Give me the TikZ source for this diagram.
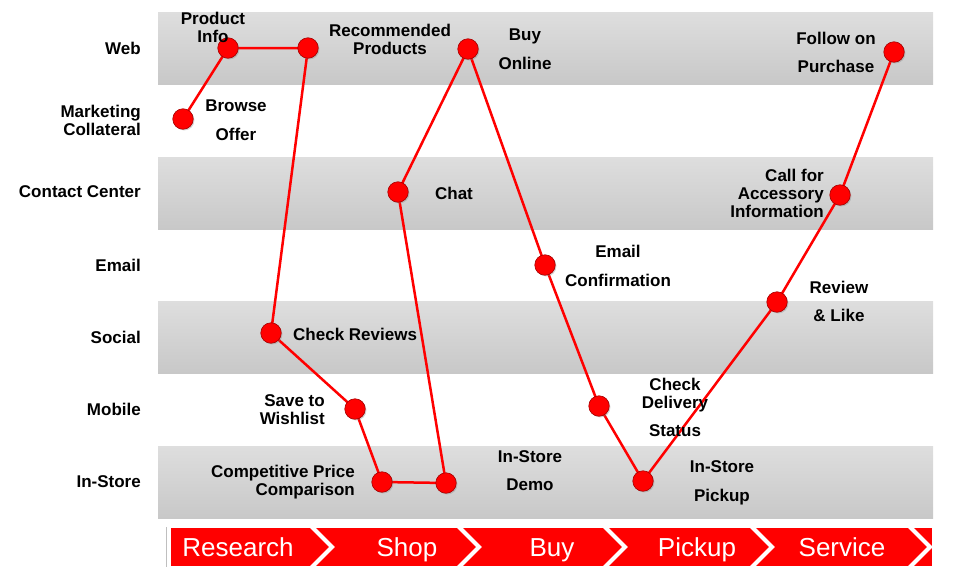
\documentclass[tikz,border=0pt]{standalone}
\usepackage{fontspec}
\setmainfont{Liberation Sans}
\usetikzlibrary{shadows}
\definecolor{rd}{HTML}{FF0000}
\definecolor{bandtop}{HTML}{DEDEDE}
\definecolor{bandbot}{HTML}{C8C8C8}
\begin{document}
\begin{tikzpicture}[x=1pt,y=-1pt,
  dot/.style={circle, fill=rd, draw=rd!65!black, line width=0.6pt, minimum size=20.5pt, inner sep=0pt,
              drop shadow={shadow xshift=1.2pt, shadow yshift=-1.2pt, opacity=0.35}},
  lbl/.style={font=\fontsize{17}{18}\selectfont\bfseries, text=black, inner sep=0pt, align=center},
  rowlbl/.style={lbl, anchor=east, align=right},
  stage/.style={font=\fontsize{26}{28}\selectfont, text=white, inner sep=0pt, anchor=base},
  journey/.style={rd, line width=2.5pt},
  band/.style={top color=bandtop, bottom color=bandbot},
  chev/.style={white, line width=4pt, line join=miter}]
\useasboundingbox (0,0) rectangle (959,570);
% bands
\shade[band] (158,12) rectangle (933,84);
\shade[band] (158,157) rectangle (933,229);
\shade[band] (158,301) rectangle (933,373);
\shade[band] (158,446) rectangle (933,518);
% row labels
\node[rowlbl] (rWeb) at (141,48) {Web};
\node[rowlbl] (rMkt) at (141,120) {Marketing\\Collateral};
\node[rowlbl] (rCC) at (141,192) {Contact Center};
\node[rowlbl] (rEmail) at (141,265) {Email};
\node[rowlbl] (rSocial) at (141,337) {Social};
\node[rowlbl] (rMobile) at (141,409) {Mobile};
\node[rowlbl] (rStore) at (141,482) {In-Store};
% stage bar
\draw[gray!50, line width=0.8pt] (166,527) -- (166,567);
\fill[rd] (171,528) rectangle (932,566);
\foreach \x in {310,457,603,750,908}{
  \draw[chev] (\x,525) -- (\x+22,547) -- (\x,569);
}
\node[stage] (sResearch) at (238,556) {Research};
\node[stage] (sShop) at (407,556) {Shop};
\node[stage] (sBuy) at (552,556) {Buy};
\node[stage] (sPickup) at (697,556) {Pickup};
\node[stage] (sService) at (842,556) {Service};
% dot coordinates
\coordinate (p1) at (183,119);
\coordinate (p2) at (228,48);
\coordinate (p3) at (308,48);
\coordinate (p4) at (271,333);
\coordinate (p5) at (355,409);
\coordinate (p6) at (382,482);
\coordinate (p7) at (446,483);
\coordinate (p8) at (398,192);
\coordinate (p9) at (468,49);
\coordinate (p10) at (545,265);
\coordinate (p11) at (599,406);
\coordinate (p12) at (643,481);
\coordinate (p13) at (777,302);
\coordinate (p14) at (840,195);
\coordinate (p15) at (894,52);
% journey line
\draw[journey, line join=round] (p1) -- (p2) -- (p3) -- (p4) -- (p5) -- (p6) -- (p7) -- (p8) -- (p9) -- (p10) -- (p11) -- (p12) -- (p13) -- (p14) -- (p15);
% dots
\foreach \i in {1,...,15}{
  \node[dot] (d\i) at (p\i) {};
}
% labels
\node[lbl] (tProd) at (213,27) {Product\\Info};
\node[lbl] (tBrowse) at (236,120.5) {Browse\\[11pt]Offer};
\node[lbl] (tRec) at (390,39) {Recommended\\Products};
\node[lbl] (tBuy) at (525,49.5) {Buy\\[11pt]Online};
\node[lbl] (tChat) at (454,193) {Chat};
\node[lbl] (tEmail) at (618,265.5) {Email\\[11pt]Confirmation};
\node[lbl, anchor=west] (tRev) at (293,334) {Check Reviews};
\node[lbl, anchor=east, align=right] (tSave) at (325,410) {Save to\\Wishlist};
\node[lbl, anchor=east, align=right] (tComp) at (355,482.5) {Competitive Price\\Comparison};
\node[lbl] (tDemo) at (530,471) {In-Store\\[10pt]Demo};
\node[lbl] (tDeliv) at (675,407) {Check\\Delivery\\[10pt]Status};
\node[lbl] (tPick) at (722,482.5) {In-Store\\[11pt]Pickup};
\node[lbl] (tLike) at (839,301) {Review\\[10pt]\&{} Like};
\node[lbl, anchor=east, align=right] (tCall) at (824,193.5) {Call for\\Accessory\\Information};
\node[lbl] (tFollow) at (836,52) {Follow on\\[10pt]Purchase};
\end{tikzpicture}
\end{document}
